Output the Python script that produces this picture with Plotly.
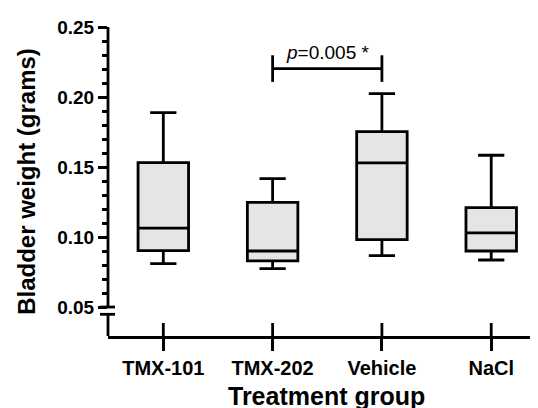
import plotly.graph_objects as go

# ---- data ----
groups = ["TMX-101", "TMX-202", "Vehicle", "NaCl"]
lower_whisker = [0.081, 0.0774, 0.0867, 0.0836]
q1_vals = [0.0903, 0.0829, 0.0981, 0.0900]
median_vals = [0.1064, 0.0900, 0.1529, 0.1029]
q3_vals = [0.1531, 0.1248, 0.1753, 0.1210]
upper_whisker = [0.1889, 0.1417, 0.2024, 0.1584]

y_ticks = [0.05, 0.10, 0.15, 0.20, 0.25]
y_tick_labels = ["0.05", "0.10", "0.15", "0.20", "0.25"]
y_minor = [0.06, 0.07, 0.08, 0.09, 0.11, 0.12, 0.13, 0.14, 0.16, 0.17, 0.18,
           0.19, 0.21, 0.22, 0.23, 0.24]

sig_pair = ["TMX-202", "Vehicle"]
sig_level = 0.2203
sig_text = "<i>p</i>=0.005 *"

x_title = "Treatment group"
y_title = "Bladder weight (grams)"

y_break_upper = 0.05
y_break_lower = 0.0448
y_min, y_max = 0.0293, 0.25

FONT = "Liberation Sans, Arial, sans-serif"
LW = 2.8

fig = go.Figure()
fig.add_trace(go.Box(
    x=groups,
    q1=q1_vals, median=median_vals, q3=q3_vals,
    lowerfence=lower_whisker, upperfence=upper_whisker,
    boxpoints=False,
    fillcolor="#e5e5e5",
    line=dict(color="black", width=LW),
    whiskerwidth=0.52,
    showlegend=False,
    hoverinfo="skip",
))

# significance bracket
fig.add_trace(go.Scatter(
    x=sig_pair, y=[sig_level, sig_level],
    mode="lines+markers",
    line=dict(color="black", width=LW),
    marker=dict(symbol="line-ns", size=19, line=dict(color="black", width=LW)),
    showlegend=False, hoverinfo="skip",
))
fig.add_annotation(
    x=(groups.index(sig_pair[0]) + groups.index(sig_pair[1])) / 2,
    y=sig_level, xref="x", yref="y",
    text=sig_text, showarrow=False,
    yanchor="bottom", yshift=4,
    font=dict(family=FONT, size=19, color="black"),
)
# x-axis title (placed as an annotation so it can run off the bottom edge)
fig.add_annotation(
    x=0.5, y=0, xref="paper", yref="paper",
    text=x_title, showarrow=False,
    xanchor="center", yanchor="top", yshift=-44, xshift=3,
    font=dict(family=FONT, size=25, weight="bold", color="black"),
)

shapes = []
# y axis line with a break
shapes.append(dict(type="line", xref="paper", yref="y", x0=0, x1=0,
                   y0=y_break_upper, y1=y_max, line=dict(color="black", width=LW)))
shapes.append(dict(type="line", xref="paper", yref="y", x0=0, x1=0,
                   y0=y_min, y1=y_break_lower, line=dict(color="black", width=LW)))
for yb in (y_break_upper, y_break_lower):
    shapes.append(dict(type="line", xref="paper", yref="y", xsizemode="pixel", xanchor=0,
                       x0=-8, x1=7, y0=yb, y1=yb, line=dict(color="black", width=LW)))
# inner half of x ticks (crossing the axis)
for g in groups:
    shapes.append(dict(type="line", xref="x", yref="paper", ysizemode="pixel", yanchor=0,
                       x0=g, x1=g, y0=0, y1=13, line=dict(color="black", width=LW)))

# the page body has an 8px default margin; the figure runs past the window bottom
fig.update_layout(
    width=530, height=408,
    margin=dict(l=100, r=0, t=19, b=80, autoexpand=False),
    plot_bgcolor="white", paper_bgcolor="white",
    boxgap=0.34,
    shapes=shapes,
    font=dict(family=FONT, color="black"),
    xaxis=dict(
        type="category", categoryorder="array", categoryarray=groups,
        range=[-0.506, 3.428], automargin=False,
        showline=True, linecolor="black", linewidth=LW,
        ticks="outside", ticklen=12, tickwidth=LW, tickcolor="black",
        showgrid=False, zeroline=False,
        tickfont=dict(family=FONT, size=20, weight="bold"),
    ),
    yaxis=dict(
        range=[y_min, y_max], automargin=False,
        tickmode="array", tickvals=y_ticks, ticktext=y_tick_labels,
        showline=False, showgrid=False, zeroline=False,
        ticks="outside", ticklen=9, tickwidth=LW, tickcolor="black",
        minor=dict(tickmode="array", tickvals=y_minor, ticks="outside", ticklen=5,
                   tickwidth=LW, tickcolor="black", showgrid=False),
        tickfont=dict(family=FONT, size=19, weight="bold"),
        title=dict(text=y_title, font=dict(family=FONT, size=24, weight="bold"),
                   standoff=14),
    ),
)

fig.write_html("out.html")
